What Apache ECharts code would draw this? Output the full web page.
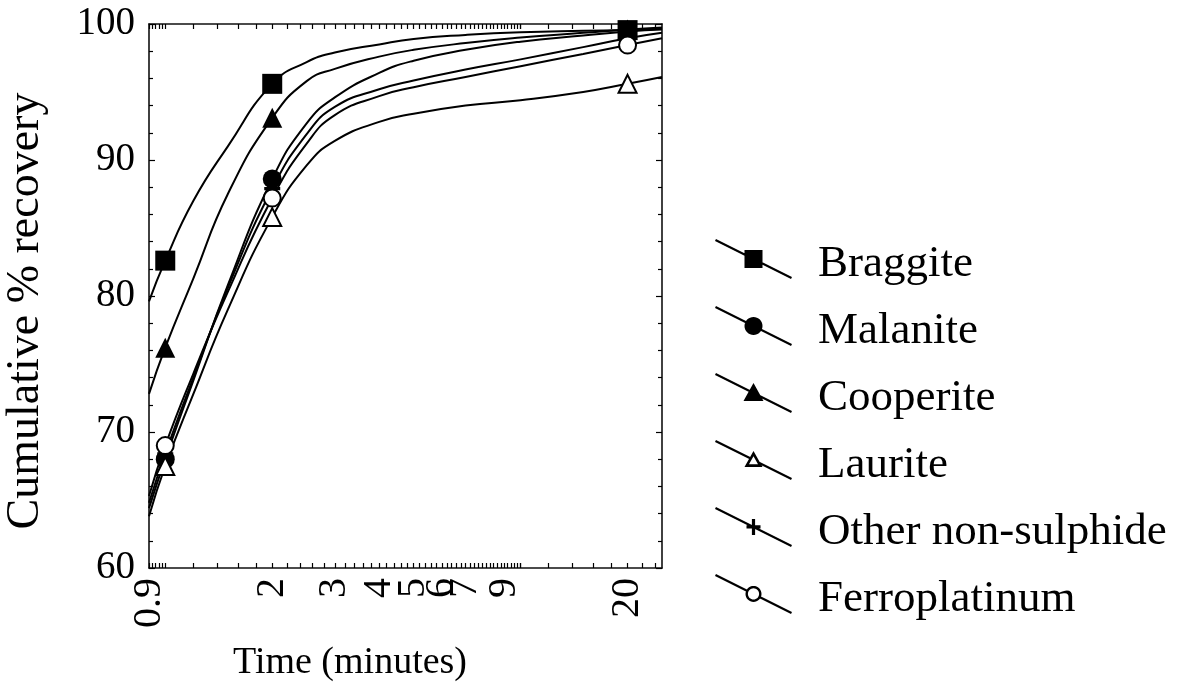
<!DOCTYPE html>
<html>
<head>
<meta charset="utf-8">
<title>Cumulative recovery of PGM phases</title>
<script src="https://cdn.jsdelivr.net/npm/echarts@6.0.0/dist/echarts.min.js"></script>
<style>
  html, body { margin: 0; padding: 0; background: #fff; }
  #chart { width: 1189px; height: 698px; }
</style>
</head>
<body>
<div id="chart"></div>
<script>
// Sampling times (minutes) of the fitted recovery curves
const times = [0.9, 1, 1.2, 1.5, 2, 2.5, 3, 4, 5, 7, 10, 15, 20, 25];
// Times at which measured points are marked
const markerTimes = [1, 2, 20];

// Cumulative % recovery for each mineral at the times above
const braggite  = [79.6, 82.6, 87.0, 91.0, 95.6, 97.2, 97.9, 98.5, 98.9, 99.2, 99.4, 99.5, 99.55, 99.65];
const cooperite = [72.8, 76.2, 81.3, 87.5, 93.1, 95.8, 96.7, 97.6, 98.1, 98.6, 99.0, 99.35, 99.6, 99.75];
const malanite  = [64.4, 68.0, 73.8, 80.8, 88.6, 92.7, 94.6, 96.4, 97.3, 98.1, 98.7, 99.15, 99.45, 99.6];
const otherNonSulphide = [64.8, 68.4, 74.0, 80.6, 87.9, 91.9, 93.9, 95.2, 95.85, 96.65, 97.4, 98.3, 98.95, 99.35];
const ferroplatinum = [65.3, 69.0, 74.3, 80.3, 87.2, 91.2, 93.3, 94.7, 95.35, 96.1, 96.9, 97.8, 98.45, 98.95];
const laurite   = [63.8, 67.5, 72.8, 79.0, 85.8, 89.6, 91.4, 92.8, 93.4, 94.0, 94.4, 95.0, 95.6, 96.1];

// Axis labels
const xLabelValues = [0.9, 2, 3, 4, 5, 6, 7, 9, 20];
const legendOrder = ['Braggite', 'Malanite', 'Cooperite', 'Laurite', 'Other non-sulphide', 'Ferroplatinum'];

const SERIF = "'Liberation Serif', 'Times New Roman', serif";
const PLUS = 'path://M6,0h3v6h6v3h-6v6h-3v-6h-6v-3h6z';

// Tick marks along the time axis
const xTicks = [];
for (let k = 0; k < 5; k++) xTicks.push(+(0.9 + 0.02 * k).toFixed(2));
for (let k = 0; k <= 45; k++) xTicks.push(+(1 + 0.2 * k).toFixed(1));
for (let k = 0; k <= 7; k++) xTicks.push(10 + 2 * k);

// ---- legend glyphs: a slanted line with the marker in its middle ----
const LW = 76, LH = 38;
const LEG_DROP = 11; // empty room under the glyph so the label sits a little lower
function signedArea(p) {
  let s = 0;
  for (let i = 0; i < p.length; i++) {
    const a = p[i], b = p[(i + 1) % p.length];
    s += a[0] * b[1] - b[0] * a[1];
  }
  return s;
}
function polyPath(p, sign) {
  if (Math.sign(signedArea(p)) !== sign) p = p.slice().reverse();
  return 'M' + p.map(q => q[0].toFixed(2) + ',' + q[1].toFixed(2)).join('L') + 'Z';
}
function strip(a, b, hw) {
  const dx = b[0] - a[0], dy = b[1] - a[1], L = Math.hypot(dx, dy);
  const nx = -dy / L * hw, ny = dx / L * hw;
  return [[a[0] + nx, a[1] + ny], [b[0] + nx, b[1] + ny], [b[0] - nx, b[1] - ny], [a[0] - nx, a[1] - ny]];
}
function circlePts(cx, cy, r, n) {
  const p = [];
  for (let i = 0; i < n; i++) {
    const t = 2 * Math.PI * i / n;
    p.push([cx + r * Math.cos(t), cy + r * Math.sin(t)]);
  }
  return p;
}
function inside(pt, poly) {
  let ins = false;
  for (let i = 0, j = poly.length - 1; i < poly.length; j = i++) {
    const xi = poly[i][0], yi = poly[i][1], xj = poly[j][0], yj = poly[j][1];
    if (((yi > pt[1]) !== (yj > pt[1])) && (pt[0] < (xj - xi) * (pt[1] - yi) / (yj - yi) + xi)) ins = !ins;
  }
  return ins;
}
function scalePoly(p, c, k) {
  return p.map(q => [c[0] + (q[0] - c[0]) * k, c[1] + (q[1] - c[1]) * k]);
}
function legendIcon(kind) {
  const cx = LW / 2, cy = LH / 2, L = Math.hypot(LW, LH);
  const d = [LW / L, LH / L];
  const at = s => [cx + d[0] * s, cy + d[1] * s];
  const HW = 1.1;
  let solid = [], holes = [];
  if (kind === 'rect') {
    solid.push([[cx - 9, cy - 9], [cx + 9, cy - 9], [cx + 9, cy + 9], [cx - 9, cy + 9]]);
  } else if (kind === 'circle') {
    solid.push(circlePts(cx, cy, 9, 32));
  } else if (kind === 'triangle') {
    solid.push([[cx, cy - 10], [cx + 10, cy + 8], [cx - 10, cy + 8]]);
  } else if (kind === 'plus') {
    solid.push([[cx - 7, cy - 1.6], [cx + 7, cy - 1.6], [cx + 7, cy + 1.6], [cx - 7, cy + 1.6]]);
    solid.push([[cx - 1.6, cy - 8], [cx + 1.6, cy - 8], [cx + 1.6, cy + 8], [cx - 1.6, cy + 8]]);
  } else if (kind === 'emptyTriangle') {
    const outer = [[cx, cy - 9], [cx + 9, cy + 7], [cx - 9, cy + 7]];
    solid.push(outer);
    holes.push(scalePoly(outer, [cx, cy + 1.7], 0.5));
  } else if (kind === 'emptyCircle') {
    solid.push(circlePts(cx, cy, 8, 32));
    holes.push(circlePts(cx, cy, 5.6, 32));
  }
  const parts = [];
  if (holes.length) {
    // the line stops inside the outline so the hollow stays white
    const outer = solid[0], inner = holes[0];
    let s1 = null, s2 = null, s3 = null, s4 = null;
    for (let s = -L / 2; s < 0; s += 0.05) {
      if (s1 === null && inside(at(s), outer)) s1 = s;
      if (s2 === null && inside(at(s), inner)) { s2 = s; break; }
    }
    for (let s = L / 2; s > 0; s -= 0.05) {
      if (s3 === null && inside(at(s), outer)) s3 = s;
      if (s4 === null && inside(at(s), inner)) { s4 = s; break; }
    }
    parts.push(polyPath(strip(at(-L / 2), at((s1 + s2) / 2), HW), 1));
    parts.push(polyPath(strip(at((s3 + s4) / 2), at(L / 2), HW), 1));
  } else {
    parts.push(polyPath(strip(at(-L / 2), at(L / 2), HW), 1));
  }
  solid.forEach(p => parts.push(polyPath(p, 1)));
  holes.forEach(p => parts.push(polyPath(p, -1)));
  // zero-area subpath: widens the glyph box downward without drawing anything
  parts.push('M' + cx + ',' + (LH + LEG_DROP) + 'L' + cx + ',' + (LH + LEG_DROP) + 'Z');
  return 'path://' + parts.join(' ');
}

// ---- series ----
const minerals = [
  { name: 'Braggite', values: braggite, symbol: 'rect', size: 20, kind: 'rect' },
  { name: 'Cooperite', values: cooperite, symbol: 'triangle', size: 20, kind: 'triangle' },
  { name: 'Malanite', values: malanite, symbol: 'circle', size: 19, kind: 'circle' },
  { name: 'Other non-sulphide', values: otherNonSulphide, symbol: PLUS, size: 16, kind: 'plus' },
  { name: 'Laurite', values: laurite, symbol: 'emptyTriangle', size: 18, kind: 'emptyTriangle' },
  { name: 'Ferroplatinum', values: ferroplatinum, symbol: 'emptyCircle', size: 17, kind: 'emptyCircle' }
];

const series = minerals.map(m => ({
  name: m.name,
  type: 'line',
  data: times.map((t, i) => [t, m.values[i]]),
  smooth: 0.5,
  symbol: m.symbol,
  symbolSize: v => (markerTimes.indexOf(v[0]) >= 0 ? m.size : 0),
  showAllSymbol: true,
  lineStyle: { color: '#000', width: 2 },
  itemStyle: { color: '#000', borderColor: '#000', borderWidth: m.symbol.indexOf('empty') === 0 ? 2.3 : 0 },
  emphasis: { disabled: true },
  animation: false
}));

const iconByName = {};
minerals.forEach(m => { iconByName[m.name] = legendIcon(m.kind); });

const tickStyle = { color: '#000', width: 1.2 };
const lineStyle = { color: '#111', width: 1.6 };

const option = {
  backgroundColor: '#fff',
  animation: false,
  grid: { left: 149, right: 527, top: 24, bottom: 130 },
  xAxis: [
    {
      type: 'log', logBase: 10, min: 0.9, max: 25, position: 'bottom',
      name: 'Time (minutes)', nameLocation: 'middle', nameGap: 76,
      nameTextStyle: { fontFamily: SERIF, fontSize: 38, color: '#000', padding: [0, 111, 0, 0] },
      axisLine: { show: true, lineStyle: lineStyle },
      axisTick: { show: true, inside: true, length: 5, lineStyle: tickStyle, customValues: xTicks },
      axisLabel: {
        show: true, rotate: 90, margin: 10, fontFamily: SERIF, fontSize: 40, color: '#000',
        customValues: xLabelValues,
        formatter: v => String(+(+v).toPrecision(3))
      },
      splitLine: { show: false }, minorTick: { show: false }
    },
    {
      type: 'log', logBase: 10, min: 0.9, max: 25, position: 'top',
      axisLine: { show: true, lineStyle: lineStyle },
      axisTick: { show: true, inside: true, length: 5, lineStyle: tickStyle, customValues: xTicks },
      axisLabel: { show: false }, splitLine: { show: false }
    }
  ],
  yAxis: [
    {
      type: 'value', min: 60, max: 100, interval: 10, position: 'left',
      name: 'Cumulative % recovery', nameLocation: 'middle', nameGap: 100,
      nameTextStyle: { fontFamily: SERIF, fontSize: 46, color: '#000', padding: [0, 30, 0, 0] },
      axisLine: { show: true, lineStyle: lineStyle },
      axisTick: { show: true, inside: true, length: 6, lineStyle: tickStyle },
      minorTick: { show: true, splitNumber: 5, length: 4, lineStyle: tickStyle },
      axisLabel: { fontFamily: SERIF, fontSize: 39, color: '#000', margin: 14 },
      splitLine: { show: false }
    },
    {
      type: 'value', min: 60, max: 100, interval: 10, position: 'right',
      axisLine: { show: true, lineStyle: lineStyle },
      axisTick: { show: true, inside: true, length: 6, lineStyle: tickStyle },
      minorTick: { show: true, splitNumber: 5, length: 4, lineStyle: tickStyle },
      axisLabel: { show: false }, splitLine: { show: false }
    }
  ],
  legend: {
    orient: 'vertical', left: 710, top: 234,
    itemWidth: 77, itemHeight: 50, itemGap: 17,
    selectedMode: false,
    itemStyle: { color: '#000', borderWidth: 0 },
    textStyle: { fontFamily: SERIF, fontSize: 45, color: '#000', padding: [0, 0, 0, 21] },
    data: legendOrder.map(n => ({ name: n, icon: iconByName[n] }))
  },
  series: series
};

const chart = echarts.init(document.getElementById('chart'), null, { renderer: 'canvas' });
chart.setOption(option);
</script>
</body>
</html>
